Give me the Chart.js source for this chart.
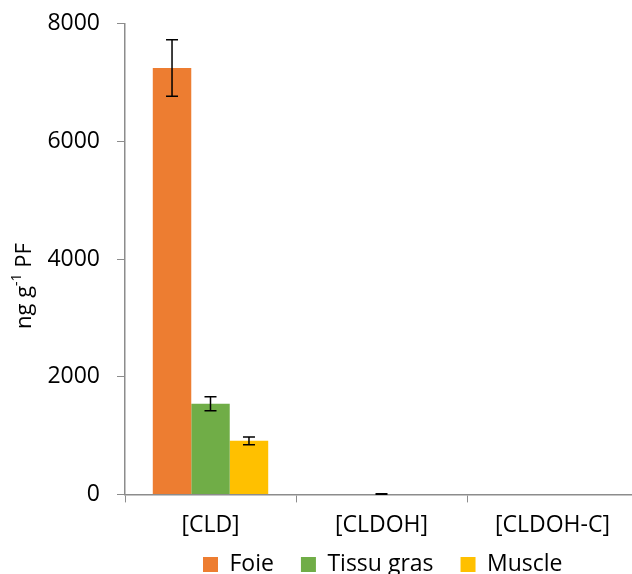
<!DOCTYPE html>
<html>
<head>
<meta charset="utf-8">
<script src="https://cdn.jsdelivr.net/npm/chart.js@4"></script>
<style>
  html, body { margin: 0; padding: 0; overflow: hidden; background: #fff; }
  #wrap { width: 640px; height: 615px; margin-top: -7px; }
</style>
</head>
<body>
<div id="wrap"><canvas id="graf" width="640" height="615"></canvas></div>
<script>
// donnees
const categories = ["[CLD]", "[CLDOH]", "[CLDOH-C]"];
const foie = [7250, 0, 0];
const foieErr = [480, 0, 0];
const tissuGras = [1540, 6, 0];
const tissuGrasErr = [120, 4, 0];
const muscle = [910, 0, 0];
const muscleErr = [65, 0, 0];
const yTicks = [0, 2000, 4000, 6000, 8000];

const police = "'Open Sans', sans-serif";
const gris = "#8c8c8c";

// barres d'erreur dessinees avec les echelles du graphique
const barresErreur = {
  id: "barresErreur",
  afterDatasetsDraw(chart) {
    const ctx = chart.ctx;
    const y = chart.scales.y;
    chart.data.datasets.forEach((ds, i) => {
      const meta = chart.getDatasetMeta(i);
      meta.data.forEach((bar, j) => {
        const e = ds.erreurs[j];
        if (!e) return;
        const v = ds.data[j];
        const yHaut = y.getPixelForValue(v + e);
        const yBas = y.getPixelForValue(Math.max(v - e, 0));
        ctx.save();
        ctx.strokeStyle = "#000";
        ctx.lineWidth = 1.5;
        ctx.beginPath();
        ctx.moveTo(bar.x, yHaut);
        ctx.lineTo(bar.x, yBas);
        ctx.moveTo(bar.x - 6, yHaut);
        ctx.lineTo(bar.x + 6, yHaut);
        ctx.moveTo(bar.x - 6, yBas);
        ctx.lineTo(bar.x + 6, yBas);
        ctx.stroke();
        ctx.restore();
      });
    });
  }
};

// titre de l'axe y avec exposant
const titreY = {
  id: "titreY",
  afterDraw(chart) {
    const ctx = chart.ctx;
    ctx.save();
    ctx.translate(31, 336);
    ctx.rotate(-Math.PI / 2);
    ctx.fillStyle = "#000";
    ctx.textAlign = "left";
    ctx.textBaseline = "alphabetic";
    ctx.font = "22px " + police;
    let x = 0;
    ctx.fillText("ng g", x, 0);
    x += ctx.measureText("ng g").width;
    ctx.font = "14px " + police;
    ctx.fillText("-1", x, -10);
    x += ctx.measureText("-1").width;
    ctx.font = "22px " + police;
    ctx.fillText(" PF", x, 0);
    ctx.restore();
  }
};

// position de la legende comme dans l'original
const placeLegende = {
  id: "placeLegende",
  afterLayout(chart) {
    const lg = chart.legend;
    const w = lg.right - lg.left;
    lg.left = 176;
    lg.right = 176 + w;
    lg.top -= 22;
    lg.bottom -= 22;
  }
};

const ctx = document.getElementById("graf").getContext("2d");
new Chart(ctx, {
  type: "bar",
  data: {
    labels: categories,
    datasets: [
      { label: "Foie", data: foie, erreurs: foieErr, backgroundColor: "#ED7D31" },
      { label: "Tissu gras", data: tissuGras, erreurs: tissuGrasErr, backgroundColor: "#70AD47" },
      { label: "Muscle", data: muscle, erreurs: muscleErr, backgroundColor: "#FFC000" }
    ]
  },
  options: {
    responsive: false,
    animation: false,
    devicePixelRatio: 1,
    layout: { padding: { top: 9, right: 2, bottom: 0 } },
    datasets: { bar: { categoryPercentage: 0.675, barPercentage: 1.0 } },
    plugins: {
      tooltip: { enabled: false },
      legend: {
        position: "bottom",
        align: "start",
        labels: {
          color: "#000",
          font: { family: police, size: 23 },
          boxWidth: 15,
          boxHeight: 15,
          padding: 27
        }
      }
    },
    scales: {
      x: {
        grid: { display: true, drawOnChartArea: false, drawTicks: true, tickLength: 8, color: gris },
        border: { display: true, color: gris, width: 1.5 },
        ticks: { color: "#000", font: { family: police, size: 23 }, padding: 9, maxRotation: 0 }
      },
      y: {
        min: 0,
        max: 8000,
        afterBuildTicks(scale) { scale.ticks = yTicks.map(v => ({ value: v })); },
        afterFit(scale) { scale.width = 125; },
        grid: { display: true, drawOnChartArea: false, drawTicks: true, tickLength: 8, color: gris },
        border: { display: true, color: gris, width: 1.5 },
        ticks: {
          color: "#000",
          font: { family: police, size: 23 },
          padding: 17,
          callback: v => String(v)
        }
      }
    }
  },
  plugins: [barresErreur, titreY, placeLegende]
});
</script>
</body>
</html>
